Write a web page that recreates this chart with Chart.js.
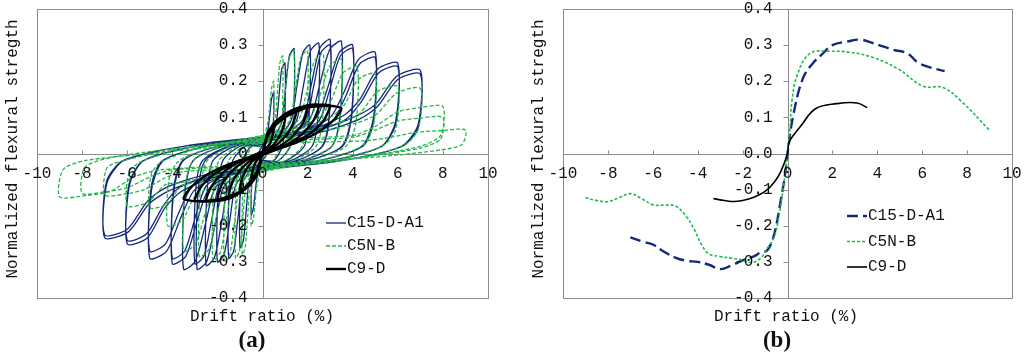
<!DOCTYPE html>
<html>
<head>
<meta charset="utf-8">
<script src="https://cdn.jsdelivr.net/npm/chart.js@4.4.1/dist/chart.umd.min.js"></script>
<style>
  html, body { margin: 0; padding: 0; background: #fff; }
  .wrap { width: 1024px; height: 360px; display: flex; }
  canvas { display: block; }
</style>
</head>
<body>
<div class="wrap">
  <canvas id="chartA" width="512" height="360"></canvas>
  <canvas id="chartB" width="512" height="360"></canvas>
</div>
<script>
// ---- data ----
const seriesNames = ["C15-D-A1", "C5N-B", "C9-D"];
const xTickLabels = ["-10", "-8", "-6", "-4", "-2", "0", "2", "4", "6", "8", "10"];
const yTickLabelsA = ["-0.4", "-0.3", "-0.2", "-0.1", "0", "0.1", "0.2", "0.3", "0.4"];
const yTickLabelsB = ["-0.4", "-0.3", "-0.2", "-0.1", "0.0", "0.1", "0.2", "0.3", "0.4"];

// (a) hysteresis loops, one array of [drift, strength] per cycle
const c15Loops = [
  [[0,0.02],[0.25,0.07],[0.4,0.15],[0.5,0.17],[0.45,0.05],[0.2,0],[0,-0.02],[-0.25,-0.07],[-0.4,-0.15],[-0.5,-0.17],[-0.45,-0.05],[-0.2,0],[0,0.02]],
  [[0,0.02],[0.35,0.04],[0.6,0.08],[0.72,0.15],[0.85,0.233],[1,0.25],[0.985,0.088],[0.88,0.02],[0.5,-0.02],[0,-0.02],[-0.35,-0.04],[-0.6,-0.08],[-0.72,-0.156],[-0.85,-0.242],[-1,-0.26],[-0.985,-0.091],[-0.88,-0.02],[-0.5,0.02],[0,0.02]],
  [[0,0.025],[0.49,0.045],[0.84,0.085],[1.01,0.174],[1.19,0.27],[1.4,0.29],[1.38,0.1],[1.23,0.02],[0.7,-0.02],[0,-0.025],[-0.53,-0.045],[-0.9,-0.085],[-1.08,-0.174],[-1.28,-0.27],[-1.5,-0.29],[-1.48,-0.1],[-1.32,-0.02],[-0.75,0.02],[0,0.025]],
  [[0,0.03],[0.74,0.05],[1.26,0.09],[1.51,0.18],[1.79,0.279],[2.1,0.3],[2.07,0.105],[1.85,0.02],[1.05,-0.02],[0,-0.03],[-0.7,-0.05],[-1.2,-0.09],[-1.44,-0.18],[-1.7,-0.279],[-2,-0.3],[-1.97,-0.105],[-1.76,-0.02],[-1,0.02],[0,0.03]],
  [[0,0.03],[0.88,0.05],[1.5,0.09],[1.8,0.183],[2.13,0.284],[2.5,0.305],[2.46,0.107],[2.2,0.02],[1.25,-0.02],[0,-0.03],[-0.88,-0.05],[-1.5,-0.09],[-1.8,-0.186],[-2.13,-0.288],[-2.5,-0.31],[-2.46,-0.108],[-2.2,-0.02],[-1.25,0.02],[0,0.03]],
  [[0,0.035],[1.05,0.055],[1.8,0.095],[2.16,0.189],[2.55,0.293],[3,0.315],[2.96,0.11],[2.64,0.02],[1.5,-0.02],[0,-0.035],[-1.02,-0.055],[-1.74,-0.095],[-2.09,-0.192],[-2.47,-0.298],[-2.9,-0.32],[-2.86,-0.112],[-2.55,-0.02],[-1.45,0.02],[0,0.035]],
  [[0,0.03],[1.1,0.05],[1.9,0.085],[2.25,0.18],[2.6,0.28],[3,0.3],[2.96,0.1],[2.66,0.02],[1.5,-0.02],[0,-0.03],[-1.1,-0.05],[-1.9,-0.085],[-2.25,-0.183],[-2.6,-0.284],[-3,-0.305],[-2.96,-0.1],[-2.66,-0.02],[-1.5,0.02],[0,0.03]],
  [[0,0.035],[1.23,0.055],[2.1,0.095],[2.52,0.186],[2.98,0.288],[3.5,0.31],[3.45,0.109],[3.08,0.02],[1.75,-0.02],[0,-0.035],[-1.23,-0.055],[-2.1,-0.095],[-2.52,-0.192],[-2.98,-0.298],[-3.5,-0.32],[-3.45,-0.112],[-3.08,-0.02],[-1.75,0.02],[0,0.035]],
  [[0,0.04],[1.4,0.06],[2.4,0.1],[2.88,0.18],[3.4,0.279],[4,0.3],[3.94,0.105],[3.52,0.02],[2,-0.02],[0,-0.04],[-1.4,-0.06],[-2.4,-0.1],[-2.88,-0.183],[-3.4,-0.284],[-4,-0.305],[-3.94,-0.107],[-3.52,-0.02],[-2,0.02],[0,0.04]],
  [[0,0.035],[1.5,0.055],[2.5,0.09],[2.95,0.17],[3.45,0.27],[4,0.29],[3.95,0.1],[3.55,0.02],[2,-0.02],[0,-0.035],[-1.5,-0.055],[-2.5,-0.09],[-2.95,-0.17],[-3.45,-0.27],[-4,-0.29],[-3.95,-0.1],[-3.55,-0.02],[-2,0.02],[0,0.035]],
  [[0,0.04],[1.75,0.06],[3,0.1],[3.6,0.168],[4.25,0.26],[5,0.28],[4.92,0.098],[4.4,0.02],[2.5,-0.02],[0,-0.04],[-1.75,-0.06],[-3,-0.1],[-3.6,-0.174],[-4.25,-0.27],[-5,-0.29],[-4.92,-0.1],[-4.4,-0.02],[-2.5,0.02],[0,0.04]],
  [[0,0.035],[1.9,0.055],[3.1,0.09],[3.7,0.16],[4.3,0.247],[5,0.265],[4.93,0.09],[4.45,0.02],[2.5,-0.02],[0,-0.035],[-1.9,-0.055],[-3.1,-0.09],[-3.7,-0.162],[-4.3,-0.25],[-5,-0.27],[-4.93,-0.09],[-4.45,-0.02],[-2.5,0.02],[0,0.035]],
  [[0,0.045],[2.1,0.065],[3.6,0.105],[4.32,0.15],[5.1,0.233],[6,0.25],[5.9,0.088],[5.28,0.02],[3,-0.02],[0,-0.045],[-2.1,-0.065],[-3.6,-0.105],[-4.32,-0.15],[-5.1,-0.233],[-6,-0.25],[-5.9,-0.088],[-5.28,-0.02],[-3,0.02],[0,0.045]],
  [[0,0.04],[2.2,0.06],[3.7,0.095],[4.4,0.145],[5.15,0.223],[6,0.24],[5.92,0.085],[5.3,0.02],[3,-0.02],[0,-0.04],[-2.2,-0.06],[-3.7,-0.095],[-4.4,-0.145],[-5.15,-0.223],[-6,-0.24],[-5.92,-0.085],[-5.3,-0.02],[-3,0.02],[0,0.04]],
  [[0,0.045],[2.45,0.065],[4.2,0.105],[5.04,0.138],[5.95,0.214],[7,0.23],[6.9,0.08],[6.16,0.02],[3.5,-0.02],[0,-0.045],[-2.45,-0.065],[-4.2,-0.105],[-5.04,-0.14],[-5.95,-0.217],[-7,-0.233],[-6.9,-0.082],[-6.16,-0.02],[-3.5,0.02],[0,0.045]],
  [[0,0.04],[2.6,0.06],[4.3,0.095],[5.1,0.13],[6,0.205],[7,0.22],[6.92,0.075],[6.2,0.02],[3.5,-0.02],[0,-0.04],[-2.6,-0.06],[-4.3,-0.095],[-5.1,-0.132],[-6,-0.21],[-7,-0.225],[-6.92,-0.078],[-6.2,-0.02],[-3.5,0.02],[0,0.04]]
];

const c5nLoops = [
  [[0,0.03],[0.25,0.09],[0.4,0.18],[0.5,0.2],[0.45,0.06],[0.2,0],[0,-0.03],[-0.25,-0.09],[-0.4,-0.18],[-0.5,-0.2],[-0.45,-0.06],[-0.2,0],[0,0.03]],
  [[0,0.03],[0.32,0.05],[0.54,0.08],[0.65,0.162],[0.77,0.251],[0.9,0.27],[0.88,0.095],[0.79,0.02],[0.45,-0.02],[0,-0.03],[-0.32,-0.05],[-0.54,-0.08],[-0.65,-0.168],[-0.77,-0.26],[-0.9,-0.28],[-0.88,-0.098],[-0.79,-0.02],[-0.45,0.02],[0,0.03]],
  [[0,0.035],[0.49,0.055],[0.84,0.085],[1.01,0.171],[1.19,0.265],[1.4,0.285],[1.38,0.1],[1.23,0.02],[0.7,-0.02],[0,-0.035],[-0.42,-0.055],[-0.72,-0.085],[-0.86,-0.174],[-1.02,-0.27],[-1.2,-0.29],[-1.18,-0.1],[-1.06,-0.02],[-0.6,0.02],[0,0.035]],
  [[0,0.04],[0.7,0.06],[1.2,0.09],[1.44,0.171],[1.7,0.265],[2,0.285],[1.97,0.1],[1.76,0.02],[1,-0.02],[0,-0.04],[-0.6,-0.06],[-1.02,-0.09],[-1.22,-0.18],[-1.45,-0.279],[-1.7,-0.3],[-1.67,-0.105],[-1.5,-0.02],[-0.85,0.02],[0,0.04]],
  [[0,0.045],[0.95,0.065],[1.62,0.095],[1.94,0.165],[2.3,0.256],[2.7,0.275],[2.66,0.096],[2.38,0.02],[1.35,-0.02],[0,-0.045],[-0.77,-0.065],[-1.32,-0.095],[-1.58,-0.177],[-1.87,-0.274],[-2.2,-0.295],[-2.17,-0.103],[-1.94,-0.02],[-1.1,0.02],[0,0.045]],
  [[0,0.05],[1.23,0.07],[2.1,0.1],[2.52,0.156],[2.98,0.242],[3.5,0.26],[3.45,0.09],[3.08,0.02],[1.75,-0.02],[0,-0.05],[-0.98,-0.07],[-1.68,-0.1],[-2.02,-0.171],[-2.38,-0.265],[-2.8,-0.285],[-2.76,-0.1],[-2.46,-0.02],[-1.4,0.02],[0,0.05]],
  [[0,0.05],[1.47,0.07],[2.52,0.1],[3.02,0.144],[3.57,0.223],[4.2,0.24],[4.14,0.084],[3.7,0.02],[2.1,-0.02],[0,-0.05],[-1.23,-0.07],[-2.1,-0.1],[-2.52,-0.162],[-2.98,-0.251],[-3.5,-0.27],[-3.45,-0.095],[-3.08,-0.02],[-1.75,0.02],[0,0.05]],
  [[0,0.05],[1.75,0.07],[3,0.1],[3.6,0.132],[4.25,0.205],[5,0.22],[4.92,0.077],[4.4,0.02],[2.5,-0.02],[0,-0.05],[-1.47,-0.07],[-2.52,-0.1],[-3.02,-0.12],[-3.57,-0.186],[-4.2,-0.2],[-4.14,-0.07],[-3.7,-0.02],[-2.1,0.02],[0,0.05]],
  [[0,0.045],[2.1,0.065],[3.6,0.09],[4.32,0.111],[5.1,0.172],[6,0.185],[5.9,0.065],[5.3,0.02],[3,-0.02],[0,-0.045],[-1.75,-0.065],[-3,-0.08],[-3.6,-0.09],[-4.25,-0.14],[-5,-0.15],[-4.92,-0.055],[-4.4,-0.02],[-2.5,0.02],[0,0.045]],
  [[0,0.04],[2.45,0.06],[4.2,0.085],[5.04,0.108],[5.95,0.167],[7,0.18],[6.9,0.065],[6.2,0.02],[3.5,-0.02],[0,-0.04],[-2.1,-0.06],[-3.6,-0.08],[-4.32,-0.087],[-5.1,-0.135],[-6,-0.145],[-5.9,-0.05],[-5.3,-0.02],[-3,0.02],[0,0.04]],
  [[0,0.04],[4,0.05],[5,0.075],[6,0.115],[7,0.127],[8,0.13],[7.9,0.05],[7,0.02],[4.4,-0.01],[0,-0.04],[-3.5,-0.05],[-4.4,-0.07],[-5.25,-0.1],[-6.1,-0.112],[-7,-0.115],[-6.9,-0.04],[-6.2,-0.02],[-3.9,0.01],[0,0.04]],
  [[0,0.035],[4,0.045],[5,0.065],[6,0.09],[7,0.098],[8,0.1],[7.9,0.04],[7,0.015],[4.4,-0.01],[0,-0.035],[-4,-0.045],[-5,-0.065],[-6,-0.095],[-7,-0.106],[-8,-0.11],[-7.9,-0.04],[-7,-0.015],[-4.4,0.01],[0,0.035]],
  [[0,0.03],[4.5,0.035],[5.7,0.045],[6.75,0.058],[7.8,0.063],[9,0.065],[8.85,0.025],[7.9,0.01],[5,-0.01],[0,-0.03],[-4.5,-0.045],[-5.7,-0.065],[-6.75,-0.105],[-7.8,-0.116],[-9,-0.12],[-8.85,-0.045],[-7.9,-0.02],[-5,0],[0,0.03]]
];

const c9Loops = [
  [[0,0],[0.15,0.04],[0.5,0.07],[0.35,0.03],[0,0],[-0.15,-0.04],[-0.5,-0.07],[-0.35,-0.03],[0,0]],
  [[0,0.002],[0.25,0.06],[0.6,0.09],[1,0.1],[0.85,0.06],[0.5,0.025],[0,-0.002],[-0.25,-0.06],[-0.6,-0.09],[-1,-0.1],[-0.85,-0.06],[-0.5,-0.025],[0,0.002]],
  [[0,0.003],[0.3,0.065],[0.8,0.1],[1.5,0.12],[1.3,0.075],[0.9,0.04],[0.4,0.012],[0,-0.003],[-0.3,-0.065],[-0.8,-0.1],[-1.5,-0.12],[-1.3,-0.075],[-0.9,-0.04],[-0.4,-0.012],[0,0.003]],
  [[0,0.004],[0.3,0.06],[0.9,0.105],[1.5,0.125],[2,0.13],[1.8,0.085],[1.3,0.045],[0.7,0.018],[0,-0.004],[-0.3,-0.06],[-0.9,-0.105],[-1.5,-0.125],[-2,-0.13],[-1.8,-0.085],[-1.3,-0.045],[-0.7,-0.018],[0,0.004]],
  [[0,0.005],[0.3,0.06],[1,0.108],[1.8,0.13],[2.5,0.135],[2.25,0.09],[1.7,0.05],[1,0.022],[0.3,0.003],[0,-0.005],[-0.3,-0.06],[-1,-0.108],[-1.8,-0.128],[-2.5,-0.132],[-2.25,-0.09],[-1.7,-0.05],[-1,-0.022],[-0.3,-0.003],[0,0.005]],
  [[0,0.005],[0.3,0.06],[1,0.105],[2,0.13],[2.6,0.135],[3,0.133],[2.7,0.09],[2.1,0.055],[1.2,0.025],[0.4,0.005],[0,-0.005],[-0.3,-0.06],[-1,-0.105],[-2,-0.13],[-2.6,-0.133],[-3,-0.13],[-2.7,-0.09],[-2.1,-0.055],[-1.2,-0.025],[-0.4,-0.005],[0,0.005]],
  [[0,0],[0.3,0.06],[1,0.1],[2,0.127],[3,0.132],[3.5,0.125],[3.2,0.095],[2.5,0.06],[1.5,0.03],[0.5,0.008],[0,-0.005],[-0.3,-0.06],[-1,-0.105],[-2,-0.128],[-3,-0.132],[-3.5,-0.125],[-3.2,-0.095],[-2.5,-0.06],[-1.5,-0.03],[-0.5,-0.008],[0,0.005]]
];

// (b) envelope curves
const c15EnvX = [-7, -6.4, -6, -5.5, -5, -4.5, -4, -3.5, -3, -2.5, -2, -1.5, -1.2, -0.9, -0.6, -0.3, -0.1, 0, 0.27, 0.7, 1.16, 1.5, 2, 2.67, 3.25, 3.83, 4.72, 5.35, 5.8, 6.37, 7];
const c15EnvY = [-0.232, -0.245, -0.252, -0.272, -0.288, -0.297, -0.3, -0.308, -0.32, -0.31, -0.296, -0.285, -0.274, -0.268, -0.225, -0.13, -0.055, 0, 0.11, 0.21, 0.252, 0.272, 0.3, 0.31, 0.315, 0.305, 0.287, 0.277, 0.252, 0.238, 0.228];
const c5nEnvX = [-9, -8.5, -8, -7.5, -7, -6.5, -6, -5.5, -5, -4.5, -4.2, -3.8, -3.5, -3, -2.5, -2, -1.6, -1.2, -0.9, -0.6, -0.4, -0.2, 0, 0.1, 0.2, 0.45, 1, 1.9, 2.8, 3.8, 4.9, 6.05, 6.9, 7.7, 9];
const c5nEnvY = [-0.122, -0.13, -0.133, -0.122, -0.111, -0.125, -0.142, -0.143, -0.145, -0.175, -0.205, -0.255, -0.278, -0.285, -0.29, -0.295, -0.302, -0.29, -0.262, -0.232, -0.18, -0.1, 0, 0.06, 0.147, 0.22, 0.277, 0.283, 0.28, 0.266, 0.235, 0.186, 0.183, 0.147, 0.064];
const c9EnvX = [-3.3, -2.8, -2.4, -2, -1.5, -1, -0.6, -0.3, 0, 0.05, 0.2, 0.6, 1.25, 2.2, 3.1, 3.55];
const c9EnvY = [-0.125, -0.13, -0.133, -0.13, -0.121, -0.105, -0.08, -0.05, 0, 0.027, 0.045, 0.077, 0.124, 0.138, 0.14, 0.127];

const navy = "#15297a";
const green = "#22b84a";
const mono = "'Liberation Mono', 'DejaVu Sans Mono', monospace";

const loopPoints = (loops) => loops.flat().map((p) => ({ x: p[0], y: p[1] }));
const envPoints = (xs, ys) => xs.map((x, i) => ({ x: x, y: ys[i] }));

// draws box, centred axes, ticks, labels, titles, legend and caption
const framePlugin = {
  id: "frame",
  beforeDatasetsDraw(chart, args, opts) {
    const { ctx, chartArea: a, scales: { x, y } } = chart;
    const x0 = Math.round(x.getPixelForValue(0)) + 0.5;
    const y0 = Math.round(y.getPixelForValue(0)) + 0.5;
    ctx.save();
    ctx.strokeStyle = "#8c8c8c";
    ctx.lineWidth = 1;
    ctx.strokeRect(Math.round(a.left) + 0.5, Math.round(a.top) + 0.5, Math.round(a.width), Math.round(a.height));
    ctx.beginPath();
    ctx.moveTo(x0, a.top);
    ctx.lineTo(x0, a.bottom);
    ctx.moveTo(a.left, y0);
    ctx.lineTo(a.right, y0);
    xTickLabels.forEach((t) => {
      const px = Math.round(x.getPixelForValue(Number(t))) + 0.5;
      ctx.moveTo(px, y0);
      ctx.lineTo(px, y0 - 4);
    });
    opts.yLabels.forEach((t) => {
      const py = Math.round(y.getPixelForValue(Number(t))) + 0.5;
      ctx.moveTo(x0 - 5, py);
      ctx.lineTo(x0, py);
    });
    ctx.stroke();
    ctx.restore();
  },
  afterDatasetsDraw(chart, args, opts) {
    const { ctx, scales: { x, y } } = chart;
    const x0 = x.getPixelForValue(0);
    const y0 = y.getPixelForValue(0);
    ctx.save();
    ctx.fillStyle = "#111";
    ctx.font = "16px " + mono;
    ctx.textBaseline = "middle";
    ctx.textAlign = "center";
    xTickLabels.forEach((t) => {
      ctx.fillText(t, x.getPixelForValue(Number(t)), y0 + 20);
    });
    ctx.textAlign = "right";
    opts.yLabels.forEach((t) => {
      ctx.fillText(t, x0 - 15, y.getPixelForValue(Number(t)));
    });

    // axis titles
    ctx.textAlign = "center";
    ctx.fillText("Drift ratio (%)", opts.xTitleX, 317);
    ctx.save();
    ctx.translate(opts.yTitleX, 149);
    ctx.rotate(-Math.PI / 2);
    ctx.fillText("Normalized flexural stregth", 0, 0);
    ctx.restore();

    // legend
    const lg = opts.legend;
    chart.data.datasets.forEach((ds, i) => {
      const ly = lg.y + i * lg.gap;
      ctx.save();
      ctx.strokeStyle = ds.borderColor;
      ctx.lineWidth = ds.borderWidth;
      ctx.setLineDash(ds.borderDash || []);
      ctx.beginPath();
      ctx.moveTo(lg.x, ly);
      ctx.lineTo(lg.x + 20, ly);
      ctx.stroke();
      ctx.restore();
      ctx.textAlign = "left";
      ctx.fillText(ds.label, lg.x + 21, ly);
    });

    // caption
    ctx.font = "bold 23px 'Liberation Serif', 'DejaVu Serif', serif";
    ctx.textAlign = "center";
    ctx.fillText(opts.caption, opts.captionX, 341);
    ctx.restore();
  }
};

function baseOptions(padding, frame) {
  return {
    responsive: false,
    animation: false,
    devicePixelRatio: 1,
    layout: { padding: padding },
    plugins: { legend: { display: false }, tooltip: { enabled: false }, frame: frame },
    elements: { point: { radius: 0 } },
    scales: {
      x: { type: "linear", min: -10, max: 10, display: false },
      y: { type: "linear", min: -0.4, max: 0.4, display: false }
    }
  };
}

new Chart(document.getElementById("chartA"), {
  type: "line",
  data: {
    datasets: [
      { label: seriesNames[0], data: loopPoints(c15Loops), borderColor: navy, borderWidth: 1.3, tension: 0.25, order: 2 },
      { label: seriesNames[1], data: loopPoints(c5nLoops), borderColor: green, borderWidth: 1.3, borderDash: [4, 2], tension: 0.25, order: 1 },
      { label: seriesNames[2], data: loopPoints(c9Loops), borderColor: "#000", borderWidth: 2.4, tension: 0.2, order: 0 }
    ]
  },
  options: baseOptions(
    { left: 37, right: 24, top: 9, bottom: 62 },
    { yLabels: yTickLabelsA, legend: { x: 326, y: 223, gap: 23 }, xTitleX: 262, yTitleX: 13, caption: "(a)", captionX: 252 }
  ),
  plugins: [framePlugin]
});

new Chart(document.getElementById("chartB"), {
  type: "line",
  data: {
    datasets: [
      { label: seriesNames[0], data: envPoints(c15EnvX, c15EnvY), borderColor: navy, borderWidth: 2.4, borderDash: [11, 5], tension: 0.4, order: 2 },
      { label: seriesNames[1], data: envPoints(c5nEnvX, c5nEnvY), borderColor: green, borderWidth: 1.6, borderDash: [3, 2], tension: 0.4, order: 1 },
      { label: seriesNames[2], data: envPoints(c9EnvX, c9EnvY), borderColor: "#000", borderWidth: 1.6, tension: 0.4, order: 0 }
    ]
  },
  options: baseOptions(
    { left: 51, right: 12, top: 9, bottom: 62 },
    { yLabels: yTickLabelsB, legend: { x: 335, y: 216, gap: 25.5 }, xTitleX: 274, yTitleX: 27, caption: "(b)", captionX: 265 }
  ),
  plugins: [framePlugin]
});
</script>
</body>
</html>
